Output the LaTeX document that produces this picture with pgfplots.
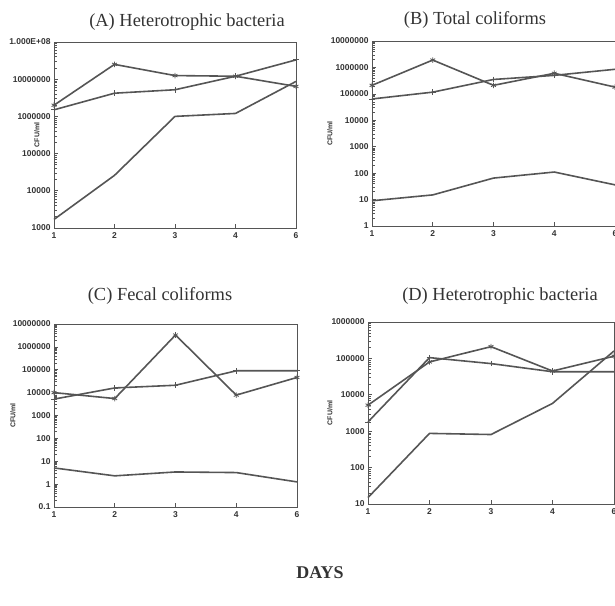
\documentclass[border=0pt]{standalone}
\usepackage{fontspec}
\setmainfont{Liberation Serif}
\newfontfamily\arial{Liberation Sans}
\usepackage{pgfplots}
\pgfplotsset{compat=1.18}
\definecolor{ln}{HTML}{555555}
\definecolor{tx}{HTML}{333333}
\pgfplotsset{
  every axis/.append style={
    scale only axis,
    xmin=1, xmax=5,
    xtick={1,2,3,4,5},
    xticklabels={1,2,3,4,6},
    tick pos=left,
    tick align=inside,
    yminorticks=true,
    axis line style={ln, line width=0.9pt},
    major tick style={ln, line width=0.6pt},
    minor tick style={ln, line width=0.6pt},
    major tick length=4bp,
    minor tick length=3bp,
    /pgf/number format/assume math mode=true,
    tick label style={font=\arial\bfseries\fontsize{8.5}{9}\selectfont, text=tx},
    xticklabel style={yshift=-1bp},
    ylabel={CFU/ml},
    clip=false,
  },
  every axis y label/.style={at={(rel axis cs:0,0.5)}, rotate=90, anchor=center, font=\arial\bfseries\fontsize{7}{8}\selectfont, text=tx},
  cycle list={
      {ln, line width=1.6pt, mark=asterisk, mark size=2.8pt, mark options={line width=0.8pt}},
      {ln, line width=1.6pt, mark=+, mark size=2.8pt, mark options={line width=0.8pt}},
      {ln, line width=1.6pt, mark=none}
  },
}
\begin{document}
\begin{tikzpicture}[x=1bp,y=1bp]
\useasboundingbox (0,0) rectangle (615,606);
\clip (0,0) rectangle (615,606);
\fill[white] (0,0) rectangle (615,606);

% (A)
\begin{semilogyaxis}[at={(54bp,378bp)}, anchor=south west, width=242bp, height=186bp,
  ymin=1000, ymax=1e8,
  ytick={1000,10000,100000,1000000,10000000,100000000},
  yticklabels={1000,10000,100000,1000000,10000000,1.000E+08},
  minor ytick={2e3,3e3,4e3,5e3,6e3,7e3,8e3,9e3,2e4,3e4,4e4,5e4,6e4,7e4,8e4,9e4,2e5,3e5,4e5,5e5,6e5,7e5,8e5,9e5,2e6,3e6,4e6,5e6,6e6,7e6,8e6,9e6,2e7,3e7,4e7,5e7,6e7,7e7,8e7,9e7},
  ylabel style={yshift=17bp}]
\addplot coordinates {(1,2.0e6) (2,2.5e7) (3,1.25e7) (4,1.2e7) (5,6.4e6)};
\addplot coordinates {(1,1.5e6) (2,4.2e6) (3,5.2e6) (4,1.2e7) (5,3.3e7)};
\addplot coordinates {(1,1.7e3) (2,2.6e4) (3,1.0e6) (4,1.2e6) (5,8.7e6)};
\end{semilogyaxis}

% (B)
\begin{semilogyaxis}[at={(372bp,380bp)}, anchor=south west, width=243bp, height=185bp,
  ymin=1, ymax=1e7,
  ytick={1,10,100,1000,10000,100000,1000000,10000000},
  yticklabels={1,10,100,1000,10000,100000,1000000,10000000},
  minor ytick={2,3,4,5,6,7,8,9,2e1,3e1,4e1,5e1,6e1,7e1,8e1,9e1,2e2,3e2,4e2,5e2,6e2,7e2,8e2,9e2,2e3,3e3,4e3,5e3,6e3,7e3,8e3,9e3,2e4,3e4,4e4,5e4,6e4,7e4,8e4,9e4,2e5,3e5,4e5,5e5,6e5,7e5,8e5,9e5,2e6,3e6,4e6,5e6,6e6,7e6,8e6,9e6},
  ylabel style={yshift=42bp}]
\addplot coordinates {(1,2.1e5) (2,1.9e6) (3,2.1e5) (4,6.0e5) (5,1.8e5)};
\addplot coordinates {(1,6.4e4) (2,1.16e5) (3,3.5e5) (4,5.0e5) (5,8.5e5)};
\addplot coordinates {(1,9) (2,15) (3,65) (4,110) (5,36)};
\end{semilogyaxis}

% (C)
\begin{semilogyaxis}[at={(54bp,99bp)}, anchor=south west, width=243bp, height=183bp,
  ymin=0.1, ymax=1e7,
  ytick={0.1,1,10,100,1000,10000,100000,1000000,10000000},
  yticklabels={0.1,1,10,100,1000,10000,100000,1000000,10000000},
  minor ytick={0.2,0.3,0.4,0.5,0.6,0.7,0.8,0.9,2,3,4,5,6,7,8,9,2e1,3e1,4e1,5e1,6e1,7e1,8e1,9e1,2e2,3e2,4e2,5e2,6e2,7e2,8e2,9e2,2e3,3e3,4e3,5e3,6e3,7e3,8e3,9e3,2e4,3e4,4e4,5e4,6e4,7e4,8e4,9e4,2e5,3e5,4e5,5e5,6e5,7e5,8e5,9e5,2e6,3e6,4e6,5e6,6e6,7e6,8e6,9e6},
  ylabel style={yshift=41bp}]
\addplot coordinates {(1,1.0e4) (2,5.5e3) (3,3.3e6) (4,7.8e3) (5,4.6e4)};
\addplot coordinates {(1,5.2e3) (2,1.6e4) (3,2.1e4) (4,9.0e4) (5,9.0e4)};
\addplot coordinates {(1,5.1) (2,2.3) (3,3.4) (4,3.2) (5,1.25)};
\end{semilogyaxis}

% (D)
\begin{semilogyaxis}[at={(368bp,102bp)}, anchor=south west, width=246bp, height=182bp,
  ymin=10, ymax=1e6,
  ytick={10,100,1000,10000,100000,1000000},
  yticklabels={10,100,1000,10000,100000,1000000},
  minor ytick={2e1,3e1,4e1,5e1,6e1,7e1,8e1,9e1,2e2,3e2,4e2,5e2,6e2,7e2,8e2,9e2,2e3,3e3,4e3,5e3,6e3,7e3,8e3,9e3,2e4,3e4,4e4,5e4,6e4,7e4,8e4,9e4,2e5,3e5,4e5,5e5,6e5,7e5,8e5,9e5},
  ylabel style={yshift=38bp}]
\addplot coordinates {(1,5.2e3) (2,8.0e4) (3,2.1e5) (4,4.5e4) (5,1.15e5)};
\addplot coordinates {(1,1.8e3) (2,1.05e5) (3,7.2e4) (4,4.3e4) (5,4.3e4)};
\addplot coordinates {(1,15) (2,870) (3,810) (4,5.8e3) (5,1.6e5)};
\end{semilogyaxis}

\node[text=tx, font=\fontsize{18.5}{21}\selectfont] at (187,584) {(A) Heterotrophic bacteria};
\node[text=tx, font=\fontsize{18.5}{21}\selectfont] at (475,586) {(B) Total coliforms};
\node[text=tx, font=\fontsize{18.5}{21}\selectfont] at (160,310) {(C) Fecal coliforms};
\node[text=tx, font=\fontsize{18.5}{21}\selectfont] at (500,310) {(D) Heterotrophic bacteria};
\node[text=tx, font=\bfseries\fontsize{18}{20}\selectfont] at (320,33) {DAYS};
\end{tikzpicture}
\end{document}
